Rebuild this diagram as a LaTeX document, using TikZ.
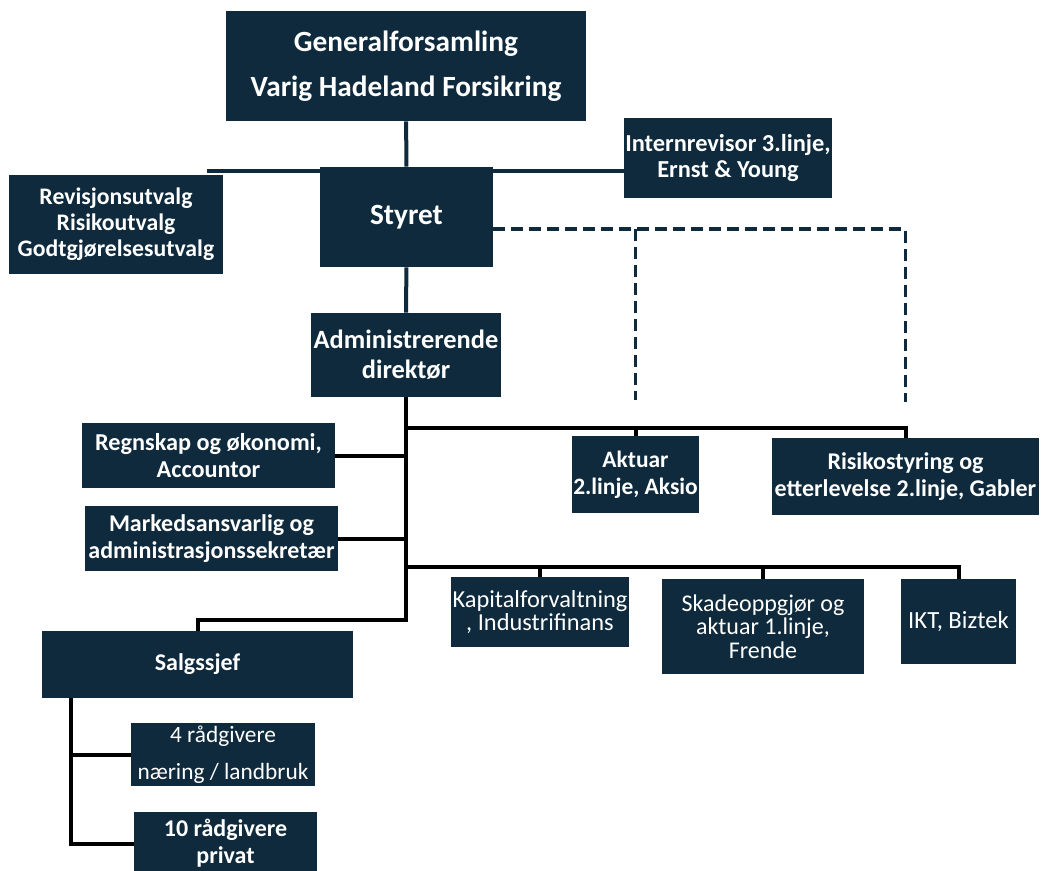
\documentclass[tikz,border=0pt]{standalone}
\usepackage{fontspec}
\setmainfont{Carlito}
\usepackage{tikz}
\usetikzlibrary{backgrounds}
\definecolor{navy}{HTML}{0E2A3C}
\tikzset{
  box/.style={fill=navy,text=white,align=center,inner sep=1pt,font=\bfseries},
  boxreg/.style={fill=navy,text=white,align=center,inner sep=1pt},
  conn/.style={line width=3pt,navy},
  connblk/.style={line width=3pt,black},
  dashconn/.style={line width=2.6pt,navy,dash pattern=on 9pt off 4.5pt}
}

\begin{document}
\begin{tikzpicture}[x=0.75pt,y=-0.75pt]
  \useasboundingbox (0,0) rectangle (1047,871);

  % top of the organisation
  \node[box,minimum width=270pt,minimum height=82.5pt,font=\bfseries\fontsize{22}{34}\selectfont] (gen) at (406,66) {Generalforsamling\\Varig Hadeland Forsikring};
  \node[box,minimum width=129.75pt,minimum height=75pt,font=\bfseries\fontsize{22}{26}\selectfont] (styret) at (406.5,217) {Styret};
  \node[box,minimum width=160.5pt,minimum height=74.25pt,font=\bfseries\fontsize{17.8}{19.5}\selectfont] (utvalg) at (116,224.5) {Revisjonsutvalg\\Risikoutvalg\\Godtgjørelsesutvalg};
  \node[box,minimum width=154.5pt,minimum height=60pt,font=\bfseries\fontsize{18.3}{19}\selectfont] (intern) at (728,158) {Internrevisor 3.linje,\\Ernst \& Young};
  \node[box,minimum width=142.5pt,minimum height=63pt,font=\bfseries\fontsize{19.8}{22.5}\selectfont] (adm) at (406,355) {Administrerende\\direktør};

  % second line
  \node[box,minimum width=95.25pt,minimum height=57.75pt,font=\bfseries\fontsize{17.6}{20}\selectfont] (aktuar) at (635.5,474.5) {Aktuar\\2.linje, Aksio};
  \node[box,minimum width=200.25pt,minimum height=57.75pt,font=\bfseries\fontsize{18}{20}\selectfont] (risiko) at (905.5,476.5) {Risikostyring og\\etterlevelse 2.linje, Gabler};

  % staff
  \node[box,minimum width=189.75pt,minimum height=48.75pt,font=\bfseries\fontsize{18.2}{20.5}\selectfont] (regnskap) at (208.5,455.5) {Regnskap og økonomi,\\Accountor};
  \node[box,minimum width=189.75pt,minimum height=48.75pt,font=\bfseries\fontsize{18}{20}\selectfont] (markeds) at (211.5,538.5) {Markedsansvarlig og\\administrasjonssekretær};

  % outsourced
  \node[boxreg,minimum width=133.5pt,minimum height=52.5pt,font=\fontsize{18.3}{17.5}\selectfont] (kapital) at (540,612) {Kapitalforvaltning\\, Industrifinans};
  \node[boxreg,minimum width=151.5pt,minimum height=71.25pt,font=\fontsize{18}{17.5}\selectfont] (skade) at (763,626.5) {Skadeoppgjør og\\aktuar 1.linje,\\Frende};
  \node[boxreg,minimum width=86.25pt,minimum height=63.75pt,font=\fontsize{18.5}{17.5}\selectfont] (ikt) at (958.5,621.5) {IKT, Biztek};

  % sales
  \node[box,minimum width=233.25pt,minimum height=50.25pt,font=\bfseries\fontsize{18}{22}\selectfont] (salg) at (197.5,664.5) {Salgssjef};
  \node[boxreg,minimum width=138pt,minimum height=47.25pt,font=\fontsize{17.5}{27.75}\selectfont] (raad4) at (223,754.5) {4 rådgivere\\næring / landbruk};
  \node[box,minimum width=137.25pt,minimum height=47.25pt,font=\bfseries\fontsize{18}{20}\selectfont] (raad10) at (225.5,843.5) {10 rådgivere\\privat};

  \begin{scope}[on background layer]
    \draw[conn] ([shift={(-16,-4)}]utvalg.north east) coordinate (ubus) -- (ubus -| intern.west);
  \end{scope}
  \draw[conn] (gen) -- (styret);
  \draw[conn] (styret) -- (adm);

  % dashed lines to the second line
  \coordinate (dash) at ([yshift=-9pt]styret.east);
  \draw[dashconn] (dash) -| ([yshift=27pt]risiko.north);
  \draw[dashconn] (dash -| aktuar.north) -- ([yshift=27pt]aktuar.north);

  % trunk and branches
  \coordinate (rbus) at ([yshift=7.5pt]risiko.north);
  \coordinate (kbus) at ([yshift=7pt]kapital.north);
  \draw[connblk] (adm.south) |- ([yshift=8pt]salg.north) -- (salg.north);
  \draw[connblk] (adm.south |- rbus) -| (risiko.north);
  \draw[connblk] (aktuar.north |- rbus) -- (aktuar.north);
  \draw[connblk] (regnskap.east) -- (regnskap.east -| adm.south);
  \draw[connblk] (markeds.east) -- (markeds.east -| adm.south);
  \draw[connblk] (adm.south |- kbus) -| (ikt.north);
  \draw[connblk] (kapital.north |- kbus) -- (kapital.north);
  \draw[connblk] (skade.north |- kbus) -- (skade.north);

  % sales team
  \coordinate (sbus) at ([xshift=21.75pt]salg.south west);
  \draw[connblk] (sbus) |- (raad10.west);
  \draw[connblk] (sbus |- raad4.west) -- (raad4.west);
\end{tikzpicture}
\end{document}
